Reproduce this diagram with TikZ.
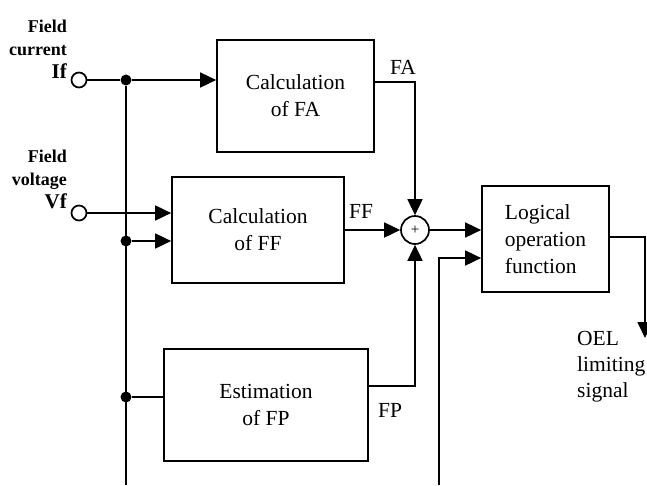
\documentclass[tikz,border=0pt]{standalone}
\usepackage{fontspec}
\setmainfont{Liberation Serif}
\usetikzlibrary{arrows.meta, positioning, calc}

\begin{document}
\begin{tikzpicture}[
    x=1pt, y=-1pt,
    block/.style={rectangle, draw=black, line width=1.7pt, inner sep=0pt, font=\fontsize{21.5}{27}\selectfont, align=center},
    port/.style={circle, draw=black, line width=1.7pt, fill=white, minimum size=15pt, inner sep=0pt},
    junction/.style={circle, fill=black, minimum size=11pt, inner sep=0pt},
    summer/.style={circle, draw=black, line width=1.7pt, minimum size=28pt, inner sep=0pt, font=\fontsize{15}{15}\selectfont},
    inlabel/.style={font=\fontsize{18}{23}\selectfont\bfseries, align=right, inner sep=0pt},
    sig/.style={font=\fontsize{21.5}{25}\selectfont, inner sep=0pt},
    wire/.style={line width=1.7pt},
    flow/.style={wire, -{Triangle[length=16pt, width=15pt]}}
]
\useasboundingbox (0,0) rectangle (647,485);

% blokken
\node[block, minimum width=157pt, minimum height=112pt] (fa)    at (295.5,96)  {Calculation\\of FA};
\node[block, minimum width=172pt, minimum height=106pt] (ff)    at (258,230)   {Calculation\\of FF};
\node[block, minimum width=204pt, minimum height=112pt] (fp)    at (266,405)   {Estimation\\of FP};
\node[block, minimum width=127pt, minimum height=106pt, align=left] (logic) at (545.5,239) {Logical\\operation\\function};
\node[summer] (sum) at (415,230) {+};

% ingangen
\node[port] (inIf) at (79,80)  {};
\node[port] (inVf) at (79,213) {};
\node[inlabel, anchor=south east] (lblIf) at (67,79)  {Field\\current\\{\fontsize{21}{23}\selectfont If}};
\node[inlabel, anchor=south east] (lblVf) at (67,209) {Field\\voltage\\{\fontsize{21}{23}\selectfont Vf}};

% aftakpunten op de bus
\node[junction] (dIf) at (126,80)  {};
\node[junction] (dFF) at (126,241) {};
\node[junction] (dFP) at (126,397) {};
\coordinate (busend) at (126,485);
\coordinate (extin)  at (439,485);
\coordinate (oelend) at (645,338);

% signaalnamen
\node[sig] (lblFA) at (403,67)  {FA};
\node[sig] (lblFF) at (361,211) {FF};
\node[sig] (lblFP) at (390,410) {FP};
\node[sig, anchor=north west, align=left, font=\fontsize{21.5}{26}\selectfont] (oel) at (577,331) {OEL\\limiting\\signal};

% verbindingen
\draw[wire] (inIf) -- (dIf);
\draw[flow] (dIf) -- (dIf -| fa.west);
\draw[wire] (dIf) -- (busend);
\draw[flow] (inVf) -- (inVf -| ff.west);
\draw[flow] (dFF) -- (dFF -| ff.west);
\draw[wire] (dFP) -- (dFP -| fp.west);
\draw[flow] ([yshift=14pt]fa.east) -| (sum.north);
\draw[flow] (ff.east) -- (sum.west);
\draw[flow] ([yshift=19pt]fp.east) -| (sum.south);
\draw[flow] (sum.east) -- (sum -| logic.west);
\draw[flow] (extin) |- ([yshift=-19pt]logic.west);
\draw[flow] ([yshift=2pt]logic.east) -| (oelend);

\end{tikzpicture}
\end{document}
